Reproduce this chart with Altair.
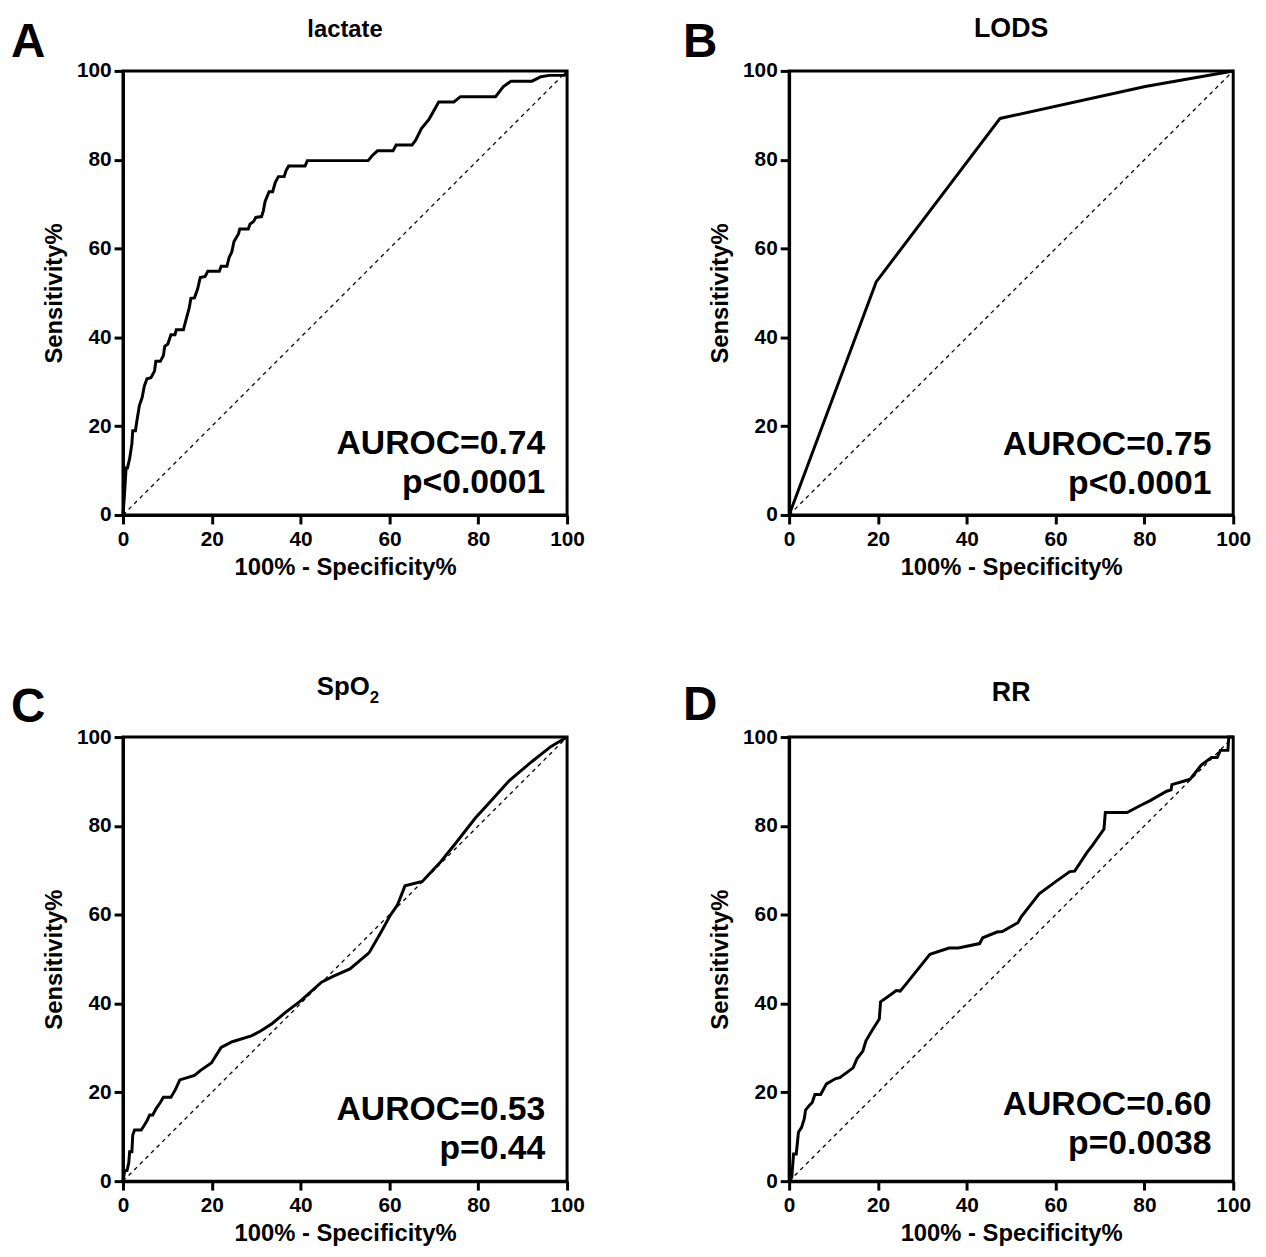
import altair as alt
import pandas as pd

# ---------------- data ----------------
ticks = [0, 20, 40, 60, 80, 100]
diag_x = [0, 100]
diag_y = [0, 100]

# A: lactate
lac_fpr = [0, 0.3, 0.7, 1.0, 1.5, 2.0, 2.2, 2.8, 3.1, 3.7, 4.3, 4.8, 5.4, 6.3, 7.1, 7.4, 8.4, 9.1, 9.4, 10.1,
           10.8, 11.7, 12.0, 13.6, 14.2, 14.9, 15.3, 16.1, 16.8, 17.4, 18.5, 19.1, 21.7, 22.1, 23.4, 23.9, 24.5,
           25.0, 26.0, 26.3, 28.2, 28.6, 29.4, 29.9, 31.2, 31.6, 32.0, 32.9, 33.7, 34.3, 35.0, 36.3, 36.7, 37.3,
           41.0, 41.5, 55.2, 56.1, 57.3, 60.8, 61.5, 65.1, 65.9, 67.2, 68.9, 71.1, 74.5, 76.0, 83.9, 85.6, 87.4,
           92.1, 94.1, 96.0, 99.4, 100]
lac_sens = [0, 4.1, 10.6, 10.6, 12.7, 16.0, 19.0, 19.0, 21.0, 24.7, 26.4, 29.0, 30.7, 30.9, 32.4, 34.6, 34.6, 35.9,
            38.0, 38.5, 40.6, 40.6, 41.7, 41.7, 44.0, 46.6, 48.8, 48.9, 50.9, 53.5, 53.7, 54.9, 54.9, 56.0, 56.0,
            58.0, 59.2, 61.6, 63.3, 64.4, 64.4, 65.5, 66.1, 67.0, 67.2, 68.5, 70.6, 72.8, 72.8, 74.9, 76.2, 76.2,
            77.5, 78.6, 78.6, 79.8, 79.8, 80.9, 82.0, 82.0, 83.3, 83.3, 84.4, 87.0, 89.1, 93.0, 93.0, 94.2, 94.2,
            96.4, 97.7, 97.7, 98.7, 99.0, 99.0, 100]

# B: LODS
lods_fpr = [0, 19.6, 47.5, 80.2, 100]
lods_sens = [0, 52.5, 89.3, 96.5, 100]

# C: SpO2
spo_fpr = [0, 0.4, 0.9, 1.3, 1.5, 2.0, 2.2, 2.6, 4.1, 4.8, 5.4, 6.0, 6.7, 7.5, 8.4, 9.1, 10.8, 11.8, 12.8, 16.1,
           17.4, 19.9, 22.1, 24.6, 28.9, 31.0, 33.6, 36.6, 40.0, 44.7, 47.3, 51.1, 55.4, 58.0, 60.1, 61.8, 63.5,
           67.4, 71.6, 75.0, 79.3, 83.2, 87.0, 92.1, 96.4, 100]
spo_sens = [0, 2.4, 2.4, 4.1, 6.6, 6.6, 10.4, 11.5, 11.5, 12.6, 13.6, 14.9, 14.9, 16.4, 17.7, 18.9, 18.9, 20.6,
            22.8, 23.8, 24.9, 26.6, 30.1, 31.4, 32.7, 33.8, 35.5, 38.0, 40.6, 44.8, 46.1, 47.8, 51.4, 55.9, 59.7,
            62.2, 66.5, 67.5, 72.0, 76.2, 81.7, 86.0, 90.2, 94.5, 97.9, 100]

# D: RR
rr_fpr = [0, 0.6, 1.0, 1.6, 2.1, 2.8, 3.4, 3.7, 4.5, 5.2, 5.8, 7.1, 8.4, 10.5, 11.4, 14.4, 15.3, 16.6, 17.3, 18.7,
          20.3, 20.6, 23.0, 24.1, 25.0, 26.5, 31.7, 36.0, 38.1, 42.9, 43.6, 46.8, 48.0, 51.5, 52.3, 56.3, 60.1,
          63.2, 64.3, 67.0, 68.3, 70.9, 71.2, 76.1, 79.1, 81.3, 85.0, 86.0, 86.2, 89.0, 90.3, 92.8, 95.1, 96.4,
          97.1, 98.8, 99.0, 100]
rr_sens = [0, 0.85, 6.1, 6.1, 11.0, 12.1, 14.0, 16.0, 17.0, 17.7, 19.5, 19.5, 21.9, 23.1, 23.3, 25.5, 27.6, 29.3,
           31.6, 34.0, 36.5, 40.4, 42.1, 42.9, 42.8, 44.6, 51.1, 52.5, 52.5, 53.5, 54.8, 56.1, 56.2, 58.2, 59.6,
           64.7, 67.5, 69.7, 69.8, 73.9, 75.6, 79.3, 83.0, 83.0, 84.6, 85.7, 87.8, 88.1, 89.3, 90.1, 90.5, 93.7,
           95.4, 95.4, 97.0, 97.0, 100, 100]

letters = ["A", "B", "C", "D"]
titles = ["lactate", "LODS", "SpO", "RR"]
title_sizes = [24, 27, 26, 27]
aurocs = ["AUROC=0.74", "AUROC=0.75", "AUROC=0.53", "AUROC=0.60"]
pvals = ["p<0.0001", "p<0.0001", "p=0.44", "p=0.0038"]

FONT = "Liberation Sans"
W = 448
H = 448


def text_layer(txt, x, y, size, align="left"):
    return alt.Chart(pd.DataFrame({"t": [txt]})).mark_text(
        font=FONT, fontSize=size, fontWeight="bold", color="black",
        align=align, baseline="alphabetic"
    ).encode(x=alt.value(x), y=alt.value(y), text="t:N")


def panel(fpr, sens, idx, letter_x, letter_y, title_y, ann_y0, sub=None):
    df = pd.DataFrame({"fpr": fpr, "sens": sens})
    df["i"] = range(len(df))
    ref = pd.DataFrame({"fpr": diag_x, "sens": diag_y})
    xs = alt.Scale(domain=[0, 100], nice=False)
    x_enc = alt.X("fpr:Q", scale=xs, axis=alt.Axis(values=ticks, title="100% - Specificity%",
                                                  titleY=60, titleBaseline="alphabetic"))
    y_enc = alt.Y("sens:Q", scale=xs, axis=alt.Axis(values=ticks, title="Sensitivity%",
                                                   titleX=-62, titleBaseline="alphabetic"))
    roc = alt.Chart(df).mark_line(color="black", strokeWidth=3, strokeJoin="miter").encode(
        x=x_enc, y=y_enc, order="i:Q")
    dia = alt.Chart(ref).mark_line(color="black", strokeWidth=1.3, strokeDash=[4, 4]).encode(
        x=x_enc, y=y_enc)
    layers = [dia, roc,
              text_layer(letters[idx], letter_x, letter_y, 48),
              text_layer(aurocs[idx], W - 22, ann_y0, 34, "right"),
              text_layer(pvals[idx], W - 22, ann_y0 + 40, 34, "right")]
    if sub is None:
        layers.append(text_layer(titles[idx], W / 2, title_y, title_sizes[idx], "center"))
    else:
        layers.append(text_layer(titles[idx], W / 2 + 25, title_y, title_sizes[idx], "right"))
        layers.append(text_layer(sub, W / 2 + 25, title_y + 8, 17, "left"))
    return alt.layer(*layers).properties(width=W, height=H)


pA = panel(lac_fpr, lac_sens, 0, -113, -14, -34, 386)
pB = panel(lods_fpr, lods_sens, 1, -107, -14, -34, 387)
pC = panel(spo_fpr, spo_sens, 2, -113, -15, -42, 386, sub="2")
pD = panel(rr_fpr, rr_sens, 3, -107, -17, -36, 381)

chart = alt.concat(pA, pB, pC, pD, columns=2, spacing={"row": 224, "column": 224},
                   bounds="flush").properties(
    padding={"left": 1, "top": 0, "right": 5, "bottom": 0}
).configure_view(
    stroke="black", strokeWidth=3
).configure_axis(
    grid=False, domainColor="black", domainWidth=3, tickColor="black", tickWidth=3, tickSize=9,
    labelFont=FONT, labelFontSize=21, labelFontWeight="bold", labelColor="black", labelFlush=False,
    titleFont=FONT, titleFontSize=24, titleFontWeight="bold", titleColor="black"
).configure_axisX(labelPadding=5).configure_axisY(labelPadding=3)

chart.save("out.html", embed_options={"renderer": "svg", "actions": False})
